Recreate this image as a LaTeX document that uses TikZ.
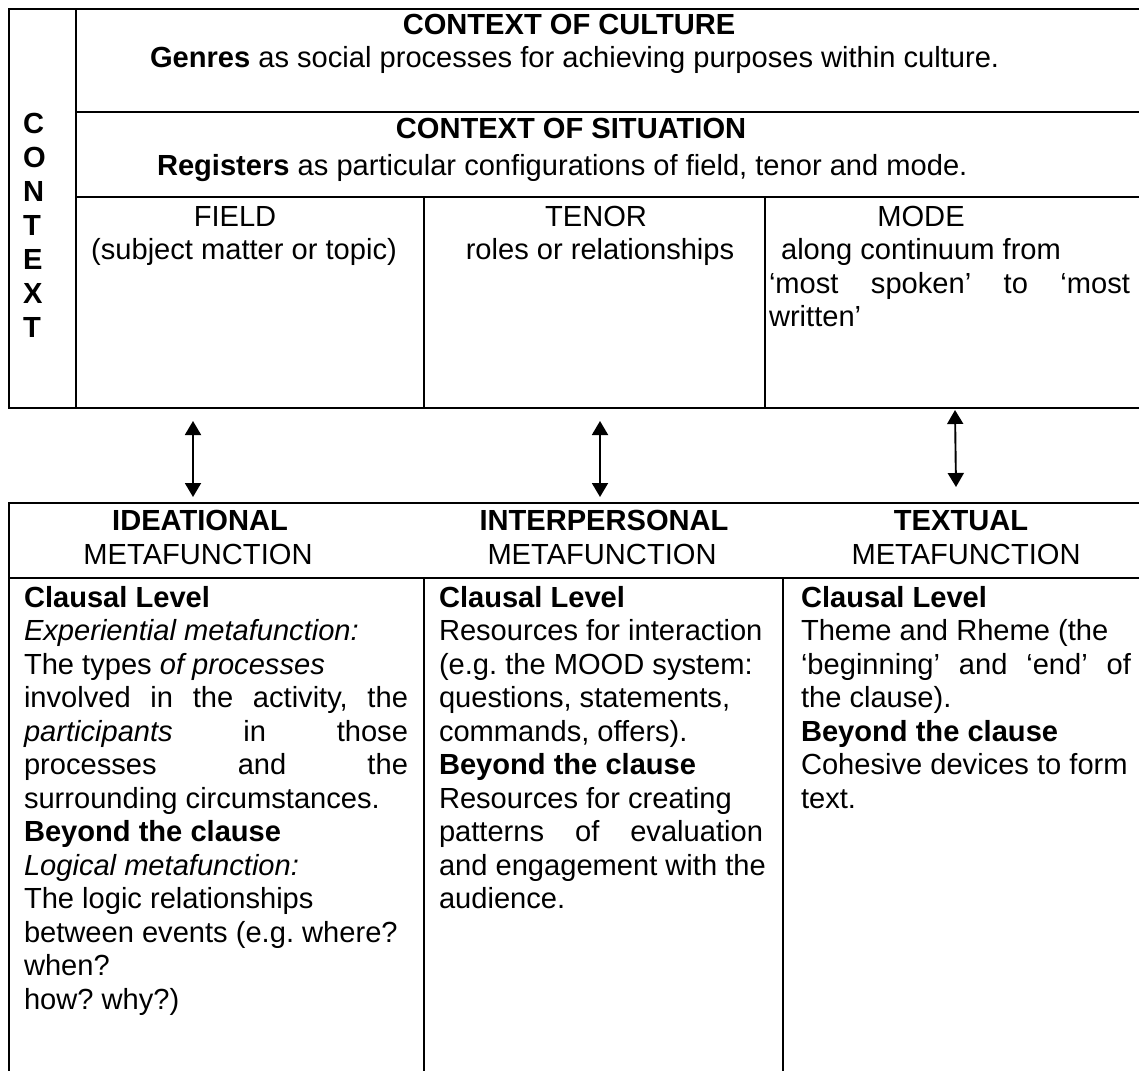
\documentclass[tikz,border=0pt]{standalone}
\usepackage{fontspec}
\setmainfont{Liberation Sans}
\usetikzlibrary{arrows.meta}
\tikzset{
  txt/.style={inner sep=0pt, outer sep=0pt, font=\fontsize{29.1pt}{33.5pt}\selectfont\frenchspacing},
  lft/.style={txt, anchor=base west},
  ctr/.style={txt, anchor=base},
  rule/.style={line width=2.4pt},
  link/.style={line width=1.9pt, {Triangle[length=14pt,width=16pt]}-{Triangle[length=14pt,width=16pt]}}
}
\begin{document}
\frenchspacing
\begin{tikzpicture}[x=1pt,y=-1pt]
\useasboundingbox (0,0) rectangle (1139,1070);
\clip (0,0) rectangle (1139,1070);
% ---------- top table ----------
\draw[rule] (1145,9) -- (9,9) -- (9,408) -- (1145,408);
\draw[rule] (76,9) -- (76,408);
\draw[rule] (76,112) -- (1145,112);
\draw[rule] (76,197) -- (1145,197);
\draw[rule] (424,197) -- (424,408);
\draw[rule] (765,197) -- (765,408);
% CONTEXT vertical letters
\node[lft] (c1) at (23,133) {\textbf{C}};
\node[lft] (c2) at (23,167) {\textbf{O}};
\node[lft] (c3) at (23,201) {\textbf{N}};
\node[lft] (c4) at (23,235) {\textbf{T}};
\node[lft] (c5) at (23,269) {\textbf{E}};
\node[lft] (c6) at (23,303) {\textbf{X}};
\node[lft] (c7) at (23,337) {\textbf{T}};
% culture / situation
\node[ctr] (cult) at (569,35) {\textbf{CONTEXT OF CULTURE}};
\node[lft] (genres) at (150,68) {\textbf{Genres} as social processes for achieving purposes within culture.};
\node[ctr] (sit) at (571,138) {\textbf{CONTEXT OF SITUATION}};
\node[lft] (reg) at (157,175) {\textbf{Registers} as particular configurations of field, tenor and mode.};
% field / tenor / mode
\node[ctr] (field) at (235,226) {FIELD};
\node[ctr] (field2) at (244,259.5) {(subject matter or topic)};
\node[ctr] (tenor) at (596,226) {TENOR};
\node[ctr] (tenor2) at (600,259.5) {roles or relationships};
\node[ctr] (mode) at (921,226) {MODE};
\node[ctr] (mode2) at (921,259.5) {along continuum from};
\node[lft] (mode3) at (769,293) {\makebox[361pt][s]{‘most spoken’ to ‘most}};
\node[lft] (mode4) at (769,326.5) {written’};
% ---------- arrows ----------
\coordinate (a1t) at (193,421); \coordinate (a1b) at (193,497);
\coordinate (a2t) at (600,421); \coordinate (a2b) at (600,497);
\coordinate (a3t) at (955,410); \coordinate (a3b) at (956,487);
\draw[link] (a1t) -- (a1b);
\draw[link] (a2t) -- (a2b);
\draw[link] (a3t) -- (a3b);
% ---------- bottom table ----------
\draw[rule] (9,1076) -- (9,503) -- (1145,503);
\draw[rule] (9,578) -- (1145,578);
\draw[rule] (424,578) -- (424,1076);
\draw[rule] (783,578) -- (783,1076);
% headers
\node[ctr] (ide) at (200,530) {\textbf{IDEATIONAL}};
\node[ctr] (ide2) at (198,564) {METAFUNCTION};
\node[ctr] (int) at (604,530) {\textbf{INTERPERSONAL}};
\node[ctr] (int2) at (602,564) {METAFUNCTION};
\node[ctr] (tex) at (961,530) {\textbf{TEXTUAL}};
\node[ctr] (tex2) at (966,564) {METAFUNCTION};
% column 1
\node[lft] (p1) at (24,607) {\textbf{Clausal Level}};
\node[lft] (p2) at (24,640.5) {\textit{Experiential metafunction:}};
\node[lft] (p3) at (24,674) {The types \textit{of processes}};
\node[lft] (p4) at (24,707.5) {\makebox[384pt][s]{involved in the activity, the}};
\node[lft] (p5) at (24,741) {\makebox[384pt][s]{\textit{participants} in those}};
\node[lft] (p6) at (24,774.5) {\makebox[384pt][s]{processes and the}};
\node[lft] (p7) at (24,808) {surrounding circumstances.};
\node[lft] (p8) at (24,841.5) {\textbf{Beyond the clause}};
\node[lft] (p9) at (24,875) {\textit{Logical metafunction:}};
\node[lft] (p10) at (24,908.5) {The logic relationships};
\node[lft] (p11) at (24,942) {between events (e.g. where?};
\node[lft] (p12) at (24,975.5) {when?};
\node[lft] (p13) at (24,1009) {how? why?)};
% column 2
\node[lft] (q1) at (439,607) {\textbf{Clausal Level}};
\node[lft] (q2) at (439,640.5) {Resources for interaction};
\node[lft] (q3) at (439,674) {(e.g. the MOOD system:};
\node[lft] (q4) at (439,707.5) {questions, statements,};
\node[lft] (q5) at (439,741) {commands, offers).};
\node[lft] (q6) at (439,774.5) {\textbf{Beyond the clause}};
\node[lft] (q7) at (439,808) {Resources for creating};
\node[lft] (q8) at (439,841.5) {\makebox[324pt][s]{patterns of evaluation}};
\node[lft] (q9) at (439,875) {and engagement with the};
\node[lft] (q10) at (439,908.5) {audience.};
% column 3
\node[lft] (r1) at (801,607) {\textbf{Clausal Level}};
\node[lft] (r2) at (801,640.5) {Theme and Rheme (the};
\node[lft] (r3) at (801,674) {\makebox[330pt][s]{‘beginning’ and ‘end’ of}};
\node[lft] (r4) at (801,707.5) {the clause).};
\node[lft] (r5) at (801,741) {\textbf{Beyond the clause}};
\node[lft] (r6) at (801,774.5) {Cohesive devices to form};
\node[lft] (r7) at (801,808) {text.};
\end{tikzpicture}
\end{document}
